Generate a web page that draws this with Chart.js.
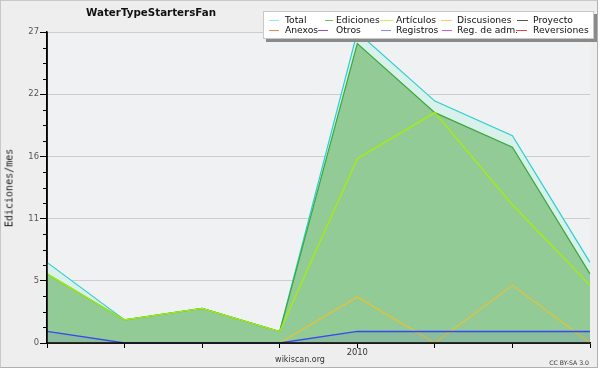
<!DOCTYPE html>
<html>
<head>
<meta charset="utf-8">
<script src="https://cdn.jsdelivr.net/npm/chart.js@4.4.1/dist/chart.umd.min.js"></script>
<style>
  html, body { margin: 0; padding: 0; background: #ffffff; }
  #frame { position: absolute; left: 0; top: 0; width: 596px; height: 366px;
           background: #eeeeee; border: 1px solid #c8c8c8; border-right-color: #b0b0b0; border-bottom-color: #b0b0b0; }
  #wrap { position: absolute; left: 0; top: 0; width: 600px; height: 370px; }
  .txt { position: absolute; font-family: "DejaVu Sans", sans-serif; white-space: nowrap; }
  #title { left: 86px; top: 6px; font-size: 10.3px; font-weight: bold; color: #111; }
  #ytitle { left: 9px; top: 188px; font-family: "DejaVu Sans Mono", monospace; font-size: 10px; color: #222;
            transform: translate(-50%, -50%) rotate(-90deg); }
  #site { left: 300px; top: 355px; transform: translateX(-50%); font-size: 8px; color: #333; }
  #cc { right: 11px; top: 359px; font-size: 6.2px; color: #333; }
  #legend { position: absolute; left: 263px; top: 11px; width: 329px; height: 26px; background: #ffffff;
            border: 1px solid #c8c8c8; box-shadow: 3px 3px 0 #8a8a8a; }
  .li { position: absolute; font-family: "DejaVu Sans", sans-serif; font-size: 9.2px; color: #111; line-height: 10px; }
  .ll { position: absolute; height: 1px; width: 11px; }
</style>
</head>
<body>
<div id="frame"></div>
<div id="wrap"><canvas id="c" width="600" height="370"></canvas></div>
<div class="txt" id="title">WaterTypeStartersFan</div>
<div class="txt" id="ytitle">Ediciones/mes</div>
<div class="txt" id="site">wikiscan.org</div>
<div class="txt" id="cc">CC BY-SA 3.0</div>
<div id="legend"></div>
<script>
// ---- data ----
const categories = ['', '', '', '', '2010', '', '', ''];
const totalValues = [7, 2, 3, 1, 27, 21, 18, 7];
const edicionesValues = [6, 2, 3, 1, 26, 20, 17, 6];
const articulosValues = [6, 2, 3, 1, 16, 20, 12, 5];
const discusionesValues = [0, 0, 0, 0, 4, 0, 5, 0];
const registrosValues = [1, 0, 0, 0, 1, 1, 1, 1];
const yTickLabels = ['0', '5', '11', '16', '22', '27'];
const yMax = 27;
const legendNames = ['Total', 'Ediciones', 'Artículos', 'Discusiones', 'Proyecto',
                     'Anexos', 'Otros', 'Registros', 'Reg. de adm.', 'Reversiones'];
const legendColors = ['#9fe3e3', '#6fc36f', '#c8f060', '#f0d060', '#555555',
                      '#f08850', '#8a50c8', '#8a8af8', '#c860e8', '#e84848'];

// ---- legend (HTML) ----
const legend = document.getElementById('legend');
const colText = [21, 72, 132, 193, 269];
const colLine = [[5, 15], [61, 69], [116, 129], [177, 188], [253, 264]];
const colLine2 = [[5, 15], [54, 64], [117, 127], [178, 188], [252, 263]];
legendNames.forEach((name, i) => {
  const row = Math.floor(i / 5), col = i % 5;
  const seg = row === 0 ? colLine[col] : colLine2[col];
  const l = document.createElement('div');
  l.className = 'll';
  l.style.left = seg[0] + 'px';
  l.style.width = (seg[1] - seg[0]) + 'px';
  l.style.top = (row === 0 ? 8 : 18) + 'px';
  l.style.background = legendColors[i];
  legend.appendChild(l);
  const t = document.createElement('div');
  t.className = 'li';
  t.textContent = name;
  t.style.left = colText[col] + 'px';
  t.style.top = (row === 0 ? 3 : 13) + 'px';
  legend.appendChild(t);
});

// ---- y ticks: majors from labels, minors in between ----
const majorStep = yMax / (yTickLabels.length - 1);
const majorValues = yTickLabels.map((_, i) => i * majorStep);

const plotBg = {
  id: 'plotBg',
  beforeDraw(chart) {
    const { ctx, chartArea: a } = chart;
    ctx.save();
    ctx.fillStyle = '#f0f1f2';
    ctx.fillRect(a.left, a.top, a.right - a.left, a.bottom - a.top);
    ctx.restore();
  },
  afterDraw(chart) {
    const { ctx, chartArea: a } = chart;
    const y = chart.scales.y;
    ctx.save();
    ctx.strokeStyle = '#000';
    ctx.lineWidth = 1;
    ctx.beginPath();
    for (let i = 0; i < majorValues.length - 1; i++) {
      for (let k = 1; k < 4; k++) {
        const py = Math.round(y.getPixelForValue(majorValues[i] + k * majorStep / 4)) + 0.5;
        ctx.moveTo(y.right - 4, py);
        ctx.lineTo(y.right, py);
      }
    }
    ctx.stroke();
    // redraw axis lines above the series
    ctx.lineWidth = 1.5;
    ctx.beginPath();
    ctx.moveTo(a.left, a.top);
    ctx.lineTo(a.left, a.bottom);
    ctx.lineTo(a.right, a.bottom);
    ctx.stroke();
    ctx.restore();
  }
};

const ds = (label, data, color, width, fill, bg, order) => ({
  label, data, borderColor: color, borderWidth: width, pointRadius: 0,
  fill, backgroundColor: bg, tension: 0, order
});

new Chart(document.getElementById('c'), {
  type: 'line',
  data: {
    labels: categories,
    datasets: [
      ds('Total', totalValues, '#2fcfcf', 1.2, 'origin', '#d8f1ea', 5),
      ds('Ediciones', edicionesValues, '#3aa83a', 1.2, 'origin', '#92cb95', 4),
      ds('Artículos', articulosValues, '#a8f000', 1.2, false, 'transparent', 3),
      ds('Discusiones', discusionesValues, '#eec22a', 1.1, false, 'transparent', 2),
      ds('Registros', registrosValues, '#3648f0', 1.3, 'origin', 'rgba(60,60,255,0.09)', 1)
    ]
  },
  options: {
    responsive: false,
    animation: false,
    devicePixelRatio: 1,
    layout: { padding: { left: 0, right: 10, top: 32, bottom: 0 } },
    plugins: { legend: { display: false }, tooltip: { enabled: false }, title: { display: false } },
    scales: {
      x: {
        offset: false,
        grid: { drawOnChartArea: false, drawTicks: true, tickLength: 5, tickColor: '#000' },
        border: { display: true, color: '#000', width: 1.5 },
        ticks: { autoSkip: false, maxRotation: 0, padding: 0, color: '#333',
                 font: { family: 'DejaVu Sans', size: 8.4 } },
        afterFit(s) { s.height = 27; }
      },
      y: {
        min: 0, max: yMax,
        afterBuildTicks(s) { s.ticks = majorValues.map(v => ({ value: v })); },
        grid: { color: '#cdcdcd', lineWidth: 1, tickLength: 7, tickColor: '#000' },
        border: { display: true, color: '#000', width: 1.5 },
        ticks: { padding: 1, color: '#555',
                 font: { family: 'DejaVu Sans', size: 8.4 },
                 callback: (v, i) => yTickLabels[i] },
        afterFit(s) { s.width = 47; }
      }
    }
  },
  plugins: [plotBg]
});
</script>
</body>
</html>
